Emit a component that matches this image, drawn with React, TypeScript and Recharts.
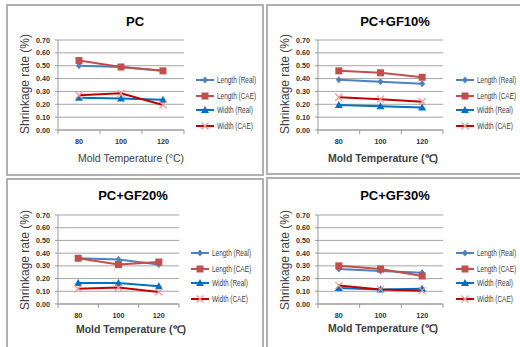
import React from "react";
import { LineChart, Line, XAxis, YAxis, CartesianGrid } from "recharts";

const temps = [80, 100, 120];
const yTicks = [0, 0.1, 0.2, 0.3, 0.4, 0.5, 0.6, 0.7];
const xTicks = [70, 80, 90, 100, 110, 120, 130];
const labelTicks = [80, 100, 120];

const pcLengthReal = [0.5, 0.49, 0.46];
const pcLengthCAE = [0.54, 0.49, 0.46];
const pcWidthReal = [0.25, 0.245, 0.235];
const pcWidthCAE = [0.27, 0.285, 0.195];

const gf10LengthReal = [0.39, 0.375, 0.36];
const gf10LengthCAE = [0.46, 0.445, 0.41];
const gf10WidthReal = [0.195, 0.185, 0.175];
const gf10WidthCAE = [0.255, 0.24, 0.22];

const gf20LengthReal = [0.36, 0.35, 0.31];
const gf20LengthCAE = [0.36, 0.31, 0.33];
const gf20WidthReal = [0.165, 0.165, 0.14];
const gf20WidthCAE = [0.12, 0.13, 0.095];

const gf30LengthReal = [0.275, 0.26, 0.245];
const gf30LengthCAE = [0.3, 0.275, 0.22];
const gf30WidthReal = [0.125, 0.115, 0.12];
const gf30WidthCAE = [0.145, 0.115, 0.105];

const seriesNames = ["Length (Real)", "Length (CAE)", "Width (Real)", "Width (CAE)"];

const C_LR = "#4F81BD";
const C_LC = "#C0504D";
const C_WR = "#0070C0";
const C_WC = "#C00000";
const C_WCM = "#F09595";

function build(lr: number[], lc: number[], wr: number[], wc: number[]) {
  return temps.map((t, i) => ({ t, lr: lr[i], lc: lc[i], wr: wr[i], wc: wc[i] }));
}

function marker(kind: string, cx: number, cy: number, key?: any) {
  if (kind === "diamond")
    return <path key={key} d={`M${cx},${cy - 3.5}L${cx + 3},${cy}L${cx},${cy + 3.5}L${cx - 3},${cy}Z`} fill={C_LR} />;
  if (kind === "square")
    return <rect key={key} x={cx - 3.5} y={cy - 3.5} width={7} height={7} fill={C_LC} />;
  if (kind === "triangle")
    return <path key={key} d={`M${cx},${cy - 4}L${cx + 4},${cy + 3}L${cx - 4},${cy + 3}Z`} fill={C_WR} />;
  return (
    <g key={key}>
      <line x1={cx - 3.5} y1={cy - 3.5} x2={cx + 3.5} y2={cy + 3.5} stroke={C_WCM} strokeWidth={1.2} />
      <line x1={cx - 3.5} y1={cy + 3.5} x2={cx + 3.5} y2={cy - 3.5} stroke={C_WCM} strokeWidth={1.2} />
    </g>
  );
}

const dotFn = (kind: string) => (p: any) => marker(kind, p.cx, p.cy, `${kind}-${p.index}`);

const XTick = (p: any) => {
  const { x, y, payload } = p;
  if (labelTicks.includes(payload.value)) {
    return (
      <text x={x} y={y + 14} textAnchor="middle" fontSize={7.2} fontWeight="bold" fill="#333" fontFamily="Liberation Sans, Arial, sans-serif">
        {payload.value}
      </text>
    );
  }
  return <line x1={x} y1={y} x2={x} y2={y + 4} stroke="#999" strokeWidth={1} />;
};

const kinds = ["diamond", "square", "triangle", "x"];
const colors = [C_LR, C_LC, C_WR, C_WC];

function Panel(props: {
  data: any[];
  plot: [number, number, number, number];
  title: string;
  titlePos: [number, number];
  xLabel: string;
  xLabelBold: boolean;
  xLabelPos: [number, number];
  yLabelPos: [number, number];
  legendX: number;
  legendRows: number[];
}) {
  const [x1, y1, x2, y2] = props.plot;
  const ML = 28, YW = 30, MT = 40, MR = 78, MB = 24, XH = 20;
  const w = x2 - x1 + ML + YW + MR;
  const h = y2 - y1 + MT + MB + XH;
  return (
    <>
      <div style={{ position: "absolute", left: x1 - ML - YW, top: y1 - MT }}>
        <LineChart width={w} height={h} data={props.data} margin={{ top: MT, right: MR, left: ML, bottom: MB }}>
          <CartesianGrid vertical={false} stroke="#a6a6a6" strokeWidth={1} />
          <XAxis
            dataKey="t"
            type="number"
            domain={[70, 130]}
            ticks={xTicks}
            interval={0}
            height={XH}
            tick={XTick}
            tickLine={false}
            tickSize={0}
            tickMargin={0}
            axisLine={{ stroke: "#999" }}
          />
          <YAxis
            type="number"
            domain={[0, 0.7]}
            ticks={yTicks}
            interval={0}
            width={YW}
            tickFormatter={(v: number) => v.toFixed(2)}
            tick={{ fontSize: 7.2, fontWeight: "bold", fill: "#333", fontFamily: "Liberation Sans, Arial, sans-serif" }}
            tickSize={3}
            tickMargin={5}
            tickLine={{ stroke: "#999" }}
            axisLine={{ stroke: "#999" }}
          />
          <Line dataKey="lr" stroke={C_LR} strokeWidth={2} dot={dotFn("diamond")} isAnimationActive={false} />
          <Line dataKey="lc" stroke={C_LC} strokeWidth={2} dot={dotFn("square")} isAnimationActive={false} />
          <Line dataKey="wr" stroke={C_WR} strokeWidth={2} dot={dotFn("triangle")} isAnimationActive={false} />
          <Line dataKey="wc" stroke={C_WC} strokeWidth={2} dot={dotFn("x")} isAnimationActive={false} />
        </LineChart>
      </div>
      <div
        style={{
          position: "absolute",
          left: props.titlePos[0] - 60,
          width: 120,
          top: props.titlePos[1] - 9,
          textAlign: "center",
          fontFamily: "Liberation Sans, Arial, sans-serif",
          fontWeight: "bold",
          fontSize: 13,
          lineHeight: "18px",
          color: "#000",
        }}
      >
        {props.title}
      </div>
      <div
        style={{
          position: "absolute",
          left: props.yLabelPos[0] - 60,
          top: props.yLabelPos[1] - 8,
          width: 120,
          height: 16,
          lineHeight: "16px",
          textAlign: "center",
          transform: "rotate(-90deg)",
          fontFamily: "Liberation Sans, Arial, sans-serif",
          fontSize: 12,
          color: "#404040",
          whiteSpace: "nowrap",
        }}
      >
        Shrinkage rate (%)
      </div>
      <div
        style={{
          position: "absolute",
          left: props.xLabelPos[0] - 80,
          top: props.xLabelPos[1] - 8,
          width: 160,
          lineHeight: "16px",
          textAlign: "center",
          fontFamily: "Liberation Sans, Arial, sans-serif",
          fontSize: 10.5,
          fontWeight: props.xLabelBold ? "bold" : "normal",
          color: "#404040",
          whiteSpace: "nowrap",
        }}
      >
        {props.xLabel}
      </div>
      {seriesNames.map((n, i) => (
        <div
          key={n}
          style={{
            position: "absolute",
            left: props.legendX,
            top: props.legendRows[i] - 6,
            height: 12,
            display: "flex",
            alignItems: "center",
            fontFamily: "Liberation Sans, Arial, sans-serif",
            fontSize: 8.5,
            color: "#404040",
            whiteSpace: "nowrap",
          }}
        >
          <svg width={18} height={12} style={{ marginRight: 3 }}>
            <line x1={0} y1={6} x2={18} y2={6} stroke={colors[i]} strokeWidth={2} />
            {marker(kinds[i], 9, 6)}
          </svg>
          <span style={{ display: "inline-block", transform: "scaleX(0.76)", transformOrigin: "left center" }}>{n}</span>
        </div>
      ))}
    </>
  );
}

const boxStyle = (l: number, t: number, w: number, h: number): React.CSSProperties => ({
  position: "absolute",
  left: l,
  top: t,
  width: w,
  height: h,
  border: "2px solid #b0b0b0",
  boxSizing: "border-box",
});

export default function App() {
  return (
    <div style={{ position: "absolute", left: 0, top: 0, width: 520, height: 347, overflow: "hidden", background: "#fff" }}>
      <div style={boxStyle(6, 4, 258, 172)} />
      <div style={boxStyle(266, 4, 260, 171)} />
      <div style={boxStyle(6, 178, 258, 180)} />
      <div style={boxStyle(266, 177, 260, 180)} />
      <Panel
        data={build(pcLengthReal, pcLengthCAE, pcWidthReal, pcWidthCAE)}
        plot={[58, 40, 184, 130]}
        title="PC"
        titlePos={[135, 22]}
        xLabel="Mold Temperature (°C)"
        xLabelBold={false}
        xLabelPos={[131, 158]}
        yLabelPos={[25, 84]}
        legendX={196}
        legendRows={[80, 96, 110, 126]}
      />
      <Panel
        data={build(gf10LengthReal, gf10LengthCAE, gf10WidthReal, gf10WidthCAE)}
        plot={[318, 40, 443, 130]}
        title="PC+GF10%"
        titlePos={[395, 22]}
        xLabel="Mold Temperature (℃)"
        xLabelBold={true}
        xLabelPos={[383, 158]}
        yLabelPos={[285, 84]}
        legendX={456}
        legendRows={[80, 96, 110, 126]}
      />
      <Panel
        data={build(gf20LengthReal, gf20LengthCAE, gf20WidthReal, gf20WidthCAE)}
        plot={[58, 215, 179, 304]}
        title="PC+GF20%"
        titlePos={[133, 196]}
        xLabel="Mold Temperature (℃)"
        xLabelBold={true}
        xLabelPos={[131, 329]}
        yLabelPos={[25, 260]}
        legendX={191}
        legendRows={[253, 269, 283, 299]}
      />
      <Panel
        data={build(gf30LengthReal, gf30LengthCAE, gf30WidthReal, gf30WidthCAE)}
        plot={[318, 215, 443, 304]}
        title="PC+GF30%"
        titlePos={[395, 196]}
        xLabel="Mold Temperature (℃)"
        xLabelBold={true}
        xLabelPos={[383, 328]}
        yLabelPos={[285, 260]}
        legendX={456}
        legendRows={[253, 269, 283, 299]}
      />
    </div>
  );
}
